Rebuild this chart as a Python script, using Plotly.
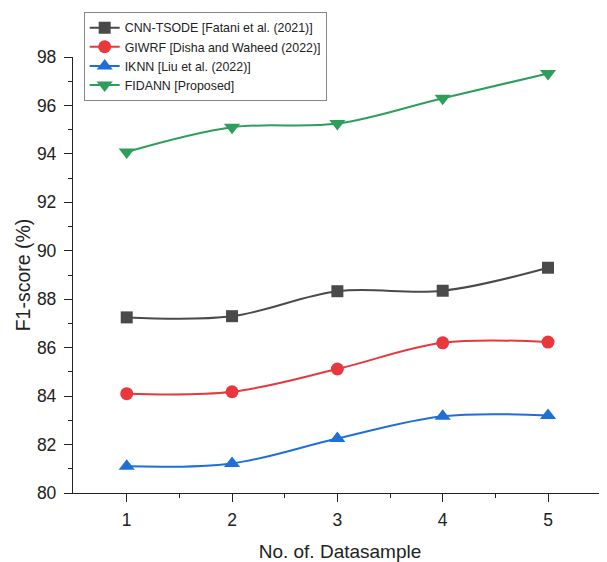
import plotly.graph_objects as go

samples = [1, 2, 3, 4, 5]
cnn_tsode = [87.25, 87.3, 88.33, 88.35, 89.3]
giwrf = [84.1, 84.18, 85.12, 86.2, 86.23]
iknn = [81.1, 81.22, 82.25, 83.17, 83.2]
fidann = [94.08, 95.1, 95.25, 96.3, 97.32]

series = [
    ("CNN-TSODE [Fatani et al. (2021)]", cnn_tsode, "#4a4a4a", "square", 12),
    ("GIWRF [Disha and Waheed (2022)]", giwrf, "#e8383d", "circle", 13),
    ("IKNN [Liu et al. (2022)]", iknn, "#1f6fd6", "triangle-up", 14),
    ("FIDANN [Proposed]", fidann, "#2e9e5b", "triangle-down", 14),
]

font = "Liberation Sans, Arial, sans-serif"
fig = go.Figure()
for name, vals, color, sym, size in series:
    fig.add_trace(go.Scatter(
        x=samples, y=vals, name=name, mode="lines+markers",
        line=dict(color=color, width=2, shape="spline", smoothing=1.0),
        marker=dict(symbol=sym, size=size, color=color),
    ))

# page body has an 8px default margin, so the figure is 8px smaller and margins compensate
fig.update_layout(
    width=599, height=554,
    margin=dict(l=65, r=0, t=49, b=67),
    paper_bgcolor="white", plot_bgcolor="white",
    font=dict(family=font, color="#222"),
    showlegend=True,
    legend=dict(
        x=0.02, y=1.103, xanchor="left", yanchor="top",
        bordercolor="#888", borderwidth=1, bgcolor="white",
        font=dict(size=12.4, family=font, color="#222"),
        tracegroupgap=0, itemwidth=30,
    ),
    xaxis=dict(
        range=[0.49, 5.56], tickvals=samples, ticktext=[str(s) for s in samples],
        showgrid=False, zeroline=False, showline=True, linecolor="#222", linewidth=1.3,
        ticks="outside", ticklen=8, tickwidth=1.3, tickcolor="#222", ticklabelstandoff=3,
        minor=dict(tickvals=[1.5, 2.5, 3.5, 4.5], ticks="outside", ticklen=4, tickwidth=1.2, tickcolor="#222"),
        tickfont=dict(size=17.5, family=font, color="#222"),
        title=dict(text="No. of. Datasample", font=dict(size=19, family=font, color="#222"), standoff=19),
    ),
    yaxis=dict(
        range=[80, 98], tickvals=[80, 82, 84, 86, 88, 90, 92, 94, 96, 98],
        showgrid=False, zeroline=False, showline=True, linecolor="#222", linewidth=1.3,
        ticks="outside", ticklen=8, tickwidth=1.3, tickcolor="#222", ticklabelstandoff=4,
        minor=dict(tickvals=[81, 83, 85, 87, 89, 91, 93, 95, 97], ticks="outside", ticklen=4, tickwidth=1.2, tickcolor="#222"),
        tickfont=dict(size=17.5, family=font, color="#222"),
        title=dict(text="F1-score (%)", font=dict(size=19.5, family=font, color="#222"), standoff=1),
    ),
)

fig.write_html("out.html")
